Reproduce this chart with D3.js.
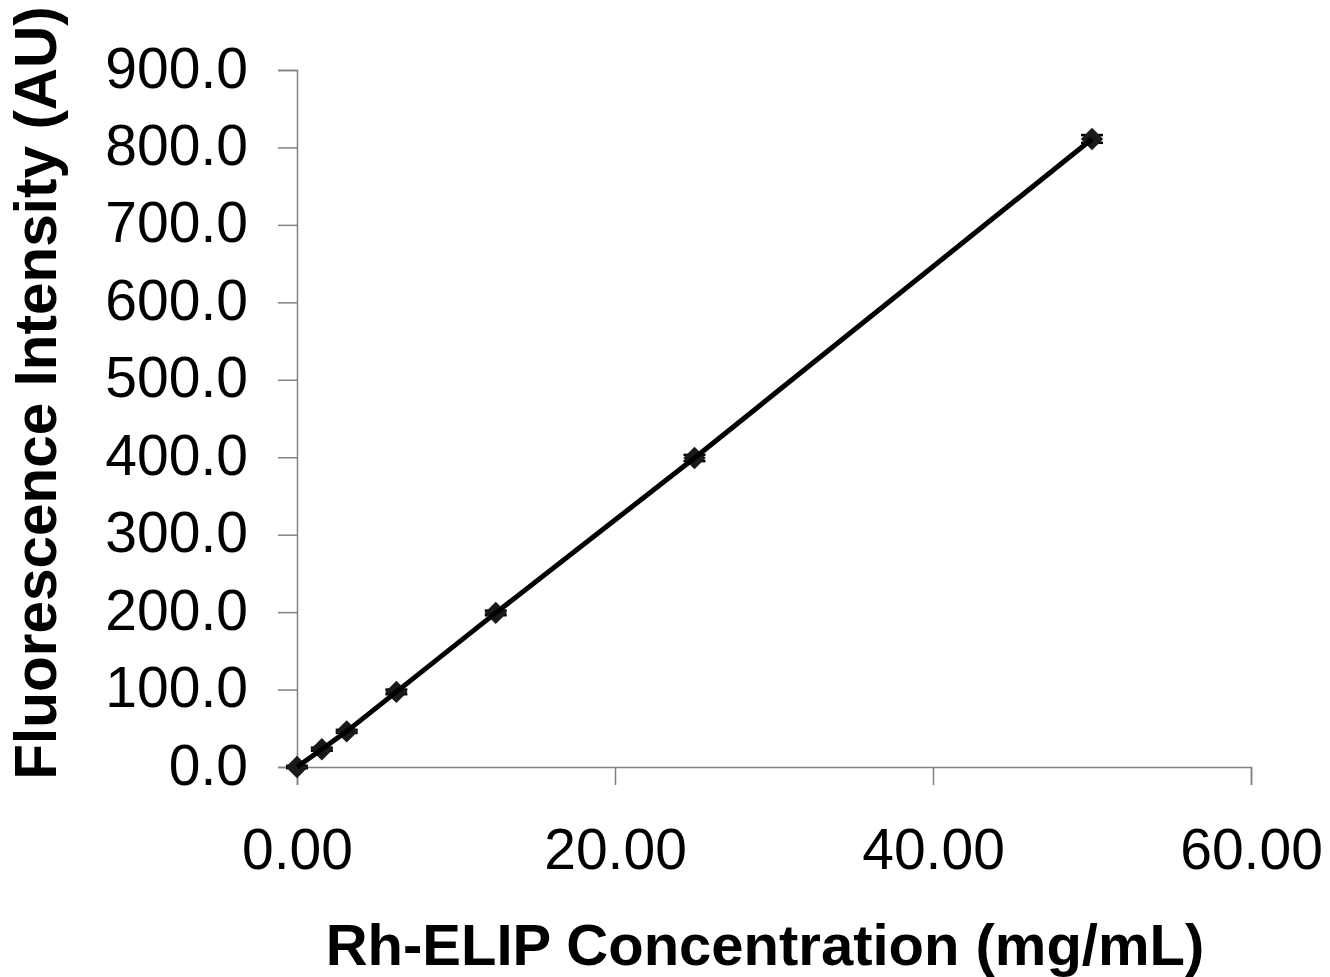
<!DOCTYPE html>
<html>
<head>
<meta charset="utf-8">
<script src="https://cdn.jsdelivr.net/npm/d3@7"></script>
<style>
  body { margin: 0; background: #fff; }
  svg { display: block; font-family: Arial, "Liberation Sans", sans-serif; }
</style>
</head>
<body>
<div id="chart"></div>
<script>
// concentration (mg/mL) and fluorescence intensity (AU)
const concentrations = [0, 1.5625, 3.125, 6.25, 12.5, 25, 50];
const intensities = [0, 23, 46, 97, 199, 399, 811];
const errors = [1.5, 2, 2, 3, 3, 4, 5];
const xTicks = [0, 20, 40, 60];
const yTicks = [0, 100, 200, 300, 400, 500, 600, 700, 800, 900];

const width = 1330, height = 977;
const margin = { top: 70, right: 79, bottom: 210, left: 297 };
const innerW = width - margin.left - margin.right;
const innerH = height - margin.top - margin.bottom;

const svg = d3.select("#chart")
    .append("svg")
    .attr("width", width)
    .attr("height", height);

const g = svg.append("g")
    .attr("transform", `translate(${margin.left},${margin.top})`);

const x = d3.scaleLinear().domain([0, 60]).range([0, innerW]);
const y = d3.scaleLinear().domain([0, 900]).range([innerH, 0]);

// y axis
const yAxis = g.append("g")
    .call(d3.axisLeft(y).tickValues(yTicks).tickSize(19).tickPadding(30)
        .tickFormat(d3.format(".1f")));
yAxis.select(".domain").attr("stroke", "#808080").attr("stroke-width", 1.5);
yAxis.selectAll(".tick line").attr("stroke", "#808080").attr("stroke-width", 1.5);
yAxis.selectAll(".tick text")
    .attr("font-size", 57)
    .attr("fill", "#000")
    .attr("dy", "0.3em");

// x axis
const xAxis = g.append("g")
    .attr("transform", `translate(0,${innerH})`)
    .call(d3.axisBottom(x).tickValues(xTicks).tickSize(18).tickPadding(44)
        .tickFormat(d3.format(".2f")));
xAxis.select(".domain").attr("stroke", "#808080").attr("stroke-width", 1.5);
xAxis.selectAll(".tick line").attr("stroke", "#808080").attr("stroke-width", 1.5);
xAxis.selectAll(".tick text")
    .attr("font-size", 57)
    .attr("fill", "#000");

const data = concentrations.map((c, i) => ({ x: c, y: intensities[i], e: errors[i] }));

// error bars
const eb = g.selectAll(".err").data(data).enter().append("g").attr("class", "err");
eb.append("line")
    .attr("x1", d => x(d.x)).attr("x2", d => x(d.x))
    .attr("y1", d => y(d.y - d.e)).attr("y2", d => y(d.y + d.e))
    .attr("stroke", "#000").attr("stroke-width", 2.5);
[-1, 1].forEach(s => {
    eb.append("line")
        .attr("x1", d => x(d.x) - 11).attr("x2", d => x(d.x) + 11)
        .attr("y1", d => y(d.y + s * d.e)).attr("y2", d => y(d.y + s * d.e))
        .attr("stroke", "#000").attr("stroke-width", 2.5);
});

// markers
g.selectAll(".pt").data(data).enter().append("path")
    .attr("class", "pt")
    .attr("d", d3.symbol().type(d3.symbolDiamond2).size(320))
    .attr("transform", d => `translate(${x(d.x)},${y(d.y)})`)
    .attr("fill", "#1a1a1a");

// line
g.append("path")
    .datum(data)
    .attr("fill", "none")
    .attr("stroke", "#000")
    .attr("stroke-width", 5)
    .attr("d", d3.line().x(d => x(d.x)).y(d => y(d.y)));

// axis titles
svg.append("text")
    .attr("x", 765)
    .attr("y", 965)
    .attr("text-anchor", "middle")
    .attr("font-size", 58)
    .attr("font-weight", "bold")
    .text("Rh-ELIP Concentration (mg/mL)");

svg.append("text")
    .attr("transform", "translate(56,393) rotate(-90)")
    .attr("text-anchor", "middle")
    .attr("font-size", 58.5)
    .attr("font-weight", "bold")
    .text("Fluorescence Intensity (AU)");
</script>
</body>
</html>
